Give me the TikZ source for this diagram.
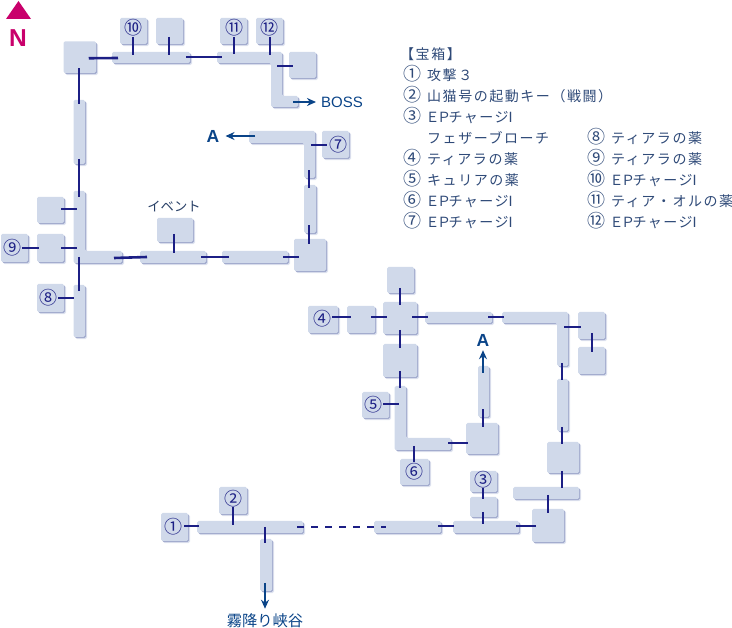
\documentclass[tikz,border=0pt]{standalone}
\usepackage{fontspec}
\setmainfont{Liberation Sans}
\newfontfamily\jp[LetterSpace=11]{Noto Sans CJK JP}
\newfontfamily\jpn{Noto Sans CJK JP}
\definecolor{roomc}{HTML}{D0D9EA}
\definecolor{shadein}{HTML}{A3ACCE}
\definecolor{shadeout}{HTML}{E0E4F0}
\definecolor{linkc}{HTML}{1C1F85}
\definecolor{arrowc}{HTML}{0A4488}
\definecolor{magc}{HTML}{C9006B}
\definecolor{legc}{HTML}{2F4A78}
\usetikzlibrary{arrows.meta}
\tikzset{
  roomfill/.style={fill=roomc,rounded corners=1.5pt,
    preaction={fill=shadeout,transform canvas={xshift=2.1pt,yshift=-2.1pt}},
    preaction={fill=shadein,transform canvas={xshift=1.1pt,yshift=-1.1pt}}},
  roombox/.style={rectangle,inner sep=0pt,roomfill},
  link/.style={draw=linkc,line width=2.6pt},
  go/.style={draw=arrowc,line width=2.2pt,-{Stealth[length=9pt,width=8pt]}},
  num/.style={inner sep=0pt,text=linkc,font=\jpn\fontsize{18}{18}\selectfont},
  leg/.style={inner sep=0pt,anchor=west,text=legc,text height=12.6pt,text depth=2pt,font=\jp\fontsize{14}{14}\selectfont},
  big/.style={text=arrowc,font=\bfseries\fontsize{17.5}{17.5}\selectfont}
}
\newcommand\room[5]{\node[roombox,minimum width={(#4-#2)*1pt},minimum height={(#5-#3)*1pt}] (#1) at ({(#2+#4)/2},{(#3+#5)/2}) {};}
\newcommand\lnk[5][link]{\draw[#1] ([shift={(#3)}]#2.center) -- ([shift={(#5)}]#4.center);}
\newcommand\EP{\kern-1.5ptＥ\kern-2.6ptＰ\kern-2.6ptチャージ\kern-5ptⅠ}
\newcommand\nb[1]{\makebox[24pt][l]{{\jpn\fontsize{18}{18}\selectfont #1}}}
\begin{document}
\begin{tikzpicture}[x=1pt,y=-1pt]
\useasboundingbox (0,0) rectangle (732,628);
% north
\fill[magc] (6,19) -- (31,19) -- (18.5,1) -- cycle;
\node[text=magc,inner sep=0pt,font=\bfseries\fontsize{24.5}{24.5}\selectfont] (north) at (18,38) {N};
% upper map
\room{r0}{63.5}{41.5}{96}{73}
\room{c1}{112}{52}{190}{63}
\room{r10}{120}{18}{147}{44}
\room{b1}{156}{18}{183}{44}
\room{r11}{220}{18}{247}{44}
\room{r12}{256}{18}{283}{44}
\room{b2}{289}{52}{316}{78}
\path[roomfill] (217,52) -- (282,52) -- (282,96) -- (298,96) -- (298,107) -- (271,107) -- (271,63) -- (217,63) -- cycle;
\coordinate (L1) at (277,58);
\room{v1}{73.5}{100}{85}{164}
\path[roomfill] (73.5,191) -- (85,191) -- (85,251) -- (122,251) -- (122,263) -- (73.5,263) -- cycle;
\coordinate (L2) at (79,257);
\room{v2}{73.5}{285}{85}{337}
\room{r8}{37}{284}{64}{312}
\room{b3}{37}{197}{64}{223}
\room{b4}{37}{234}{64}{262}
\room{r9}{1}{234}{28}{262}
\room{c2}{140}{251}{206}{263}
\room{ev}{157}{218}{193}{242}
\room{c3}{222}{251}{288}{263}
\room{g1}{294}{239}{326}{271}
\room{v3}{304}{185}{316}{233}
\path[roomfill] (249,131) -- (315,131) -- (315,178) -- (304,178) -- (304,143) -- (249,143) -- cycle;
\coordinate (L3) at (309,137);
\room{r7}{322}{131}{349}{158}
% lower map
\room{t}{387}{267}{414}{293}
\room{m}{383}{302}{417}{334}
\room{r4}{308}{306}{338}{333}
\room{b5}{347}{306}{375}{333}
\room{c4}{425}{312}{492}{323}
\path[roomfill] (502,312) -- (568,312) -- (568,366) -- (557,366) -- (557,323) -- (502,323) -- cycle;
\coordinate (L4) at (562,317);
\room{b6}{578}{312}{605}{339}
\room{b7}{578}{347}{605}{374}
\room{v4}{557}{379}{568}{431}
\room{g2}{547}{442}{579}{473}
\room{c5}{513}{487}{579}{499}
\room{g3}{532}{509}{564}{542}
\room{c6}{453}{521}{519}{533}
\room{c7}{374}{521}{441}{533}
\room{b8}{470}{497}{497}{517}
\room{r3}{470}{471}{497}{492}
\room{b9}{383}{344}{417}{377}
\path[roomfill] (394.5,386) -- (406,386) -- (406,438) -- (451,438) -- (451,450) -- (394.5,450) -- cycle;
\coordinate (L5) at (400,444);
\room{r5}{362}{392}{389}{418}
\room{r6}{400}{459}{429}{485}
\room{g4}{466}{423}{498}{454}
\room{v5}{478}{366}{489}{417}
\room{c8}{197}{521}{303}{533}
\room{r1}{161}{513}{188}{541}
\room{r2}{219}{487}{247}{514}
\room{v6}{260}{539}{272}{591}
% labels
\node[num] (n1) at (173,527) {①};
\node[num] (n2) at (233,499) {②};
\node[num] (n3) at (483,480) {③};
\node[num] (n4) at (322,319) {④};
\node[num] (n5) at (373,405) {⑤};
\node[num] (n6) at (414,472) {⑥};
\node[num] (n7) at (338,145) {⑦};
\node[num] (n8) at (48,298) {⑧};
\node[num] (n9) at (12,248) {⑨};
\node[num] (n10) at (133,28) {⑩};
\node[num] (n11) at (234,28) {⑪};
\node[num] (n12) at (269,28) {⑫};
\node[text=arrowc,inner xsep=5pt,inner ysep=0pt,anchor=west,font=\fontsize{15}{15}\selectfont] (boss) at (316,102) {BOSS};
\node[big,inner xsep=6pt,inner ysep=0pt] (a1) at (213,136) {A};
\node[big,inner xsep=0pt,inner ysep=4pt] (a2) at (483,340) {A};
\node[inner xsep=0pt,inner ysep=5pt,text=arrowc,font=\jpn\fontsize{15.3}{15.3}\selectfont] (kiri) at (265,621) {霧降り峡谷};
\node[inner sep=0pt,text=legc!85!black,font=\jpn\fontsize{13.3}{13.3}\selectfont] (evt) at (174,207) {イベント};
% connectors, upper map
\lnk{r0}{9,1}{c1}{-33,0.5}
\lnk{r10}{-0.5,6}{c1}{-18,-2}
\lnk{b1}{-0.5,6}{c1}{18,-2}
\lnk{c1}{35,-0.5}{L1}{-55,-1}
\lnk{r11}{0.5,6}{L1}{-43,-4}
\lnk{r12}{0.5,6}{L1}{-7,-2.5}
\lnk{L1}{0,8}{b2}{-9.5,1}
\draw[go] ([shift={(16,44)}]L1.center) -- (boss.west);
\lnk{r0}{-0.75,11}{v1}{-0.25,-28}
\lnk{v1}{-0.25,27}{L2}{0,-60}
\lnk{L2}{0,0}{v2}{-0.25,-20}
\lnk{r8}{7.5,0}{v2}{-5.25,-13}
\lnk{b3}{10.5,-1}{L2}{-2,-48}
\lnk{b4}{10.5,0}{L2}{-2,-9}
\lnk{r9}{7.5,0}{b4}{-11.5,0}
\lnk{L2}{35,1}{c2}{-26,0}
\lnk{ev}{-1,4}{c2}{1,-4}
\lnk{c2}{28,0}{c3}{-26,0}
\lnk{c3}{28,0}{g1}{-11,2}
\lnk{g1}{-1,-11}{v3}{-1,16}
\lnk{v3}{-1,-21}{L3}{0,33}
\lnk{L3}{2,8}{r7}{-8.5,0.5}
\draw[go] ([shift={(-54,-1)}]L3.center) -- (a1.east);
% connectors, lower map
\lnk{t}{-0.5,8}{m}{0,-13}
\lnk{r4}{9,-2.5}{b5}{-10,-2.5}
\lnk{b5}{10,-2.5}{m}{-13,-1}
\lnk{m}{12,-1}{c4}{-30.5,-0.5}
\lnk{c4}{29.5,-0.5}{L4}{-58,0}
\lnk{L4}{2,10}{b6}{-10.5,1.5}
\lnk{b6}{0.5,7.5}{b7}{0.5,-8.5}
\lnk{L4}{0,46}{v4}{-0.5,-25}
\lnk{v4}{-0.5,22}{g2}{-1,-13.5}
\lnk{g2}{-1,13.5}{c5}{16,-5}
\lnk{c5}{2,2}{g3}{0,-12.5}
\lnk{g3}{-12,0.5}{c6}{30,-1}
\lnk{c6}{-32,-1}{c7}{30.5,-1}
\lnk{b8}{-0.5,5}{c6}{-3,-3}
\lnk{r3}{-0.5,6.5}{b8}{-0.5,-8}
\lnk{m}{0,12}{b9}{0,-12.5}
\lnk{b9}{0,10.5}{L5}{0,-56}
\lnk{r5}{7.5,-1}{L5}{-1,-40}
\lnk{L5}{14,2}{r6}{-0.5,-10}
\lnk{L5}{48,-1}{g4}{-14,4.5}
\lnk{g4}{1,-11.5}{v5}{-0.5,17.5}
\draw[go] ([shift={(-0.5,-18.5)}]v5.center) -- (a2.south);
\lnk{r1}{9.5,-1}{c8}{-51,-1}
\lnk{r2}{0,6.5}{c8}{-17,-2}
\lnk{c8}{15,0}{v6}{-1,-22}
\lnk[link,dash pattern=on 7pt off 7pt]{c8}{47,0}{c7}{-21.5,0}
\draw[go] ([shift={(-1,18)}]v6.center) -- (kiri.north);
% legend
\node[leg] (lh) at (403,54) {\kern-3pt【宝箱】};
\node[leg] (l1) at (403,75) {\nb{①}攻撃３};
\node[leg] (l2) at (403,96) {\nb{②}山猫号の起動キー（戦闘）};
\node[leg] (l3) at (403,117) {\nb{③}\EP};
\node[leg] (l3b) at (427,138.5) {フェザーブローチ};
\node[leg] (l4) at (403,159) {\nb{④}ティアラの薬};
\node[leg] (l5) at (403,180) {\nb{⑤}キュリアの薬};
\node[leg] (l6) at (403,201) {\nb{⑥}\EP};
\node[leg] (l7) at (403,222) {\nb{⑦}\EP};
\node[leg] (l8) at (587,138.5) {\nb{⑧}ティアラの薬};
\node[leg] (l9) at (587,159) {\nb{⑨}ティアラの薬};
\node[leg] (l10) at (587,180) {\nb{⑩}\EP};
\node[leg] (l11) at (587,201) {\nb{⑪}ティア・オルの薬};
\node[leg] (l12) at (587,222) {\nb{⑫}\EP};
\end{tikzpicture}
\end{document}
